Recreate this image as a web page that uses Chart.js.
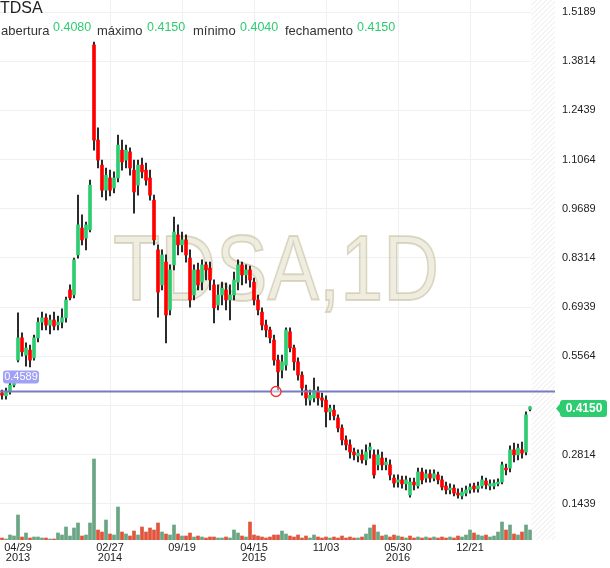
<!DOCTYPE html>
<html><head><meta charset="utf-8">
<script src="https://cdn.jsdelivr.net/npm/chart.js@4/dist/chart.umd.min.js"></script>
<style>
html,body{margin:0;padding:0;background:#fff;}
#wrap{position:relative;width:610px;height:568px;overflow:hidden;}
#c{position:absolute;left:0;top:0;}
#title{position:absolute;left:0px;top:0px;font:16px/16px "Liberation Sans",Arial,sans-serif;color:#222;}
.lg{position:absolute;top:24px;font:13px/13px "Liberation Sans",Arial,sans-serif;color:#333;white-space:nowrap;}
.val{position:absolute;top:21px;font:12.5px/13px "Liberation Sans",Arial,sans-serif;color:#2ecc71;white-space:nowrap;}
</style></head><body>
<div id="wrap"><canvas id="c" width="610" height="568"></canvas>
<div id="title">TDSA</div>
<span class="lg" style="left:1px">abertura</span><span class="val" style="left:53px">0.4080</span>
<span class="lg" style="left:97px">máximo</span><span class="val" style="left:147px">0.4150</span>
<span class="lg" style="left:193px">mínimo</span><span class="val" style="left:240px">0.4040</span>
<span class="lg" style="left:285px">fechamento</span><span class="val" style="left:357px">0.4150</span>
</div>
<script>
// ---- data ----
const candleOpen = [
.454,.446,.457,.476,.546,.608,.560,.574,.552,.608,
.652,.664,.644,.658,.644,.652,.664,.742,.728,.840,
.915,.887,.910,1.427,1.161,1.091,1.021,1.055,1.027,1.055,
1.133,1.105,1.128,1.077,1.035,1.091,1.077,1.055,.993,.854,
.756,.820,.686,.812,.896,.868,.882,.831,.728,.798,
.764,.812,.803,.756,.700,.728,.742,.714,.728,.764,
.812,.784,.798,.764,.714,.680,.644,.630,.602,.546,
.518,.532,.625,.580,.541,.504,.462,.434,.440,.457,
.440,.434,.401,.406,.384,.356,.323,.309,.289,.278,
.281,.267,.295,.281,.253,.272,.253,.253,.216,.205,
.211,.200,.169,.205,.194,.233,.216,.228,.216,.225,
.211,.194,.183,.188,.174,.166,.174,.183,.194,.186,
.194,.208,.194,.194,.200,.205,.244,.244,.295,.281,
.295,.289,.408];
const candleHigh = [
.462,.468,.482,.502,.678,.622,.594,.588,.616,.664,
.680,.675,.672,.680,.669,.689,.722,.756,.831,1.007,
.952,.932,1.049,1.435,1.195,1.105,1.083,1.077,1.072,1.175,
1.161,1.147,1.139,1.105,1.105,1.111,1.097,1.077,1.007,.868,
.854,.840,.812,.946,.924,.904,.896,.854,.812,.817,
.826,.820,.820,.770,.756,.764,.761,.756,.792,.826,
.820,.812,.809,.775,.728,.692,.658,.638,.616,.560,
.560,.636,.636,.588,.552,.513,.476,.462,.496,.471,
.454,.446,.420,.420,.393,.365,.334,.323,.300,.295,
.295,.309,.314,.295,.295,.289,.272,.267,.225,.225,
.222,.222,.216,.216,.244,.244,.239,.239,.239,.233,
.222,.205,.200,.197,.186,.188,.194,.200,.202,.205,
.222,.216,.211,.211,.214,.261,.255,.306,.314,.311,
.317,.401,.415];
const candleLow = [
.437,.437,.451,.471,.541,.557,.529,.527,.546,.597,
.630,.630,.619,.630,.630,.636,.652,.714,.720,.831,
.868,.854,.904,1.133,1.083,1.002,.993,1.005,1.013,1.044,
1.077,1.083,1.063,.957,1.007,1.055,1.035,.993,.868,.666,
.742,.594,.672,.798,.840,.848,.820,.694,.714,.742,
.742,.770,.742,.650,.686,.700,.686,.658,.714,.742,
.756,.761,.750,.700,.672,.630,.611,.594,.532,.462,
.496,.518,.569,.518,.490,.448,.420,.420,.429,.420,
.415,.359,.379,.379,.345,.309,.295,.272,.267,.261,
.258,.253,.272,.216,.239,.239,.239,.211,.191,.191,
.188,.183,.163,.183,.188,.200,.205,.205,.208,.200,
.183,.172,.172,.166,.160,.158,.166,.174,.177,.177,
.188,.186,.183,.186,.194,.200,.225,.233,.261,.267,
.272,.281,.404];
const candleClose = [
.448,.457,.476,.496,.608,.569,.580,.546,.608,.652,
.664,.644,.658,.641,.652,.664,.714,.720,.826,.924,
.882,.924,1.035,1.161,1.105,1.021,1.063,1.021,1.055,1.147,
1.100,1.133,1.083,1.016,1.091,1.072,1.049,1.007,.882,.736,
.840,.672,.798,.904,.868,.882,.840,.714,.798,.756,
.812,.798,.770,.692,.728,.747,.714,.728,.770,.812,
.784,.798,.770,.714,.686,.644,.630,.608,.546,.513,
.541,.630,.580,.541,.504,.468,.440,.448,.462,.440,
.434,.401,.412,.390,.356,.323,.309,.289,.281,.286,
.267,.289,.303,.225,.281,.253,.261,.225,.202,.211,
.200,.211,.205,.197,.233,.211,.228,.216,.228,.211,
.191,.183,.188,.174,.169,.177,.183,.191,.186,.194,
.211,.197,.200,.202,.205,.253,.239,.295,.281,.300,
.286,.393,.415];
const volume = [
2,1,5,4,25,3,7,2,3,3,
2,2,1,1,7,5,13,4,12,17,
4,5,17,81,10,8,20,6,5,33,
8,6,4,9,5,13,8,12,10,17,
8,6,5,15,6,4,4,7,3,4,
3,2,3,3,2,2,3,2,10,7,
4,3,18,5,4,3,2,3,5,5,
9,6,4,3,5,2,4,2,5,3,
2,3,2,3,2,4,2,3,2,2,
3,6,12,15,8,4,5,3,5,4,
3,2,4,2,3,2,3,2,3,2,
3,2,3,2,4,3,5,10,7,5,
4,5,3,4,8,18,10,15,6,5,
8,15,10];
const xTickIndex = [4, 27, 45, 63, 81, 99, 117];
const xTickText = [['04/29','2013'],['02/27','2014'],'09/19',['04/15','2015'],'11/03',['05/30','2016'],'12/21'];
const yTickValues = [0.1439,0.2814,0.4189,0.5564,0.6939,0.8314,0.9689,1.1064,1.2439,1.3814,1.5189];
const alertLevel = 0.4589;
const alertIndex = 68.5;
const lastPrice = 0.4150;
const symbolText = 'TDSA,1D';

// ---- styles ----
const FONT = '"Liberation Sans", Arial, sans-serif';
const UP = '#2ecc71', DOWN = '#ff0000';
const VUP = '#6aa584', VDOWN = '#e0553c';
const n = candleOpen.length;
const idx = candleOpen.map((_, i) => i);
const isUp = idx.map(i => candleClose[i] >= candleOpen[i]);
const volUp = idx.map(i => i === 0 ? isUp[0] : candleClose[i] >= candleClose[i - 1]);

const bgPlugin = {
  id: 'bg',
  beforeDatasetsDraw(chart) {
    const {ctx, chartArea: a, scales} = chart;
    const x0 = scales.x.getPixelForValue(n - 1) + 1.5;
    ctx.save();
    ctx.beginPath(); ctx.rect(x0, a.top, a.right - x0, a.bottom - a.top); ctx.clip();
    ctx.fillStyle = '#fff'; ctx.fillRect(x0, a.top, a.right - x0, a.bottom - a.top);
    ctx.strokeStyle = '#e9e9e9'; ctx.lineWidth = 1;
    ctx.beginPath();
    const H = a.bottom - a.top;
    for (let k = -H; k < (a.right - x0) + 10; k += 5) {
      ctx.moveTo(x0 + k, a.bottom); ctx.lineTo(x0 + k + H, a.top);
    }
    ctx.stroke();
    ctx.restore();
    ctx.save();
    ctx.font = '93px ' + FONT;
    const w = ctx.measureText(symbolText).width;
    ctx.translate(276, 300);
    ctx.scale(326 / w, 1);
    ctx.textAlign = 'center'; ctx.textBaseline = 'alphabetic';
    ctx.fillStyle = 'rgba(226,220,198,0.55)';
    ctx.fillText(symbolText, 0, 0);
    ctx.strokeStyle = 'rgba(200,192,162,0.6)'; ctx.lineWidth = 1.8;
    ctx.strokeText(symbolText, 0, 0);
    ctx.restore();
  }
};

const overlayPlugin = {
  id: 'overlay',
  afterDatasetsDraw(chart) {
    const {ctx, chartArea: a, scales} = chart;
    const yl = Math.round(scales.y.getPixelForValue(alertLevel)) + 0.5;
    ctx.save();
    ctx.strokeStyle = '#7a7abf'; ctx.lineWidth = 2;
    ctx.beginPath(); ctx.moveTo(a.left, yl); ctx.lineTo(a.right, yl); ctx.stroke();
    const xc = scales.x.getPixelForValue(alertIndex);
    ctx.beginPath(); ctx.arc(xc, yl, 5, 0, Math.PI * 2);
    ctx.fillStyle = 'rgba(255,255,255,0.5)'; ctx.fill();
    ctx.strokeStyle = '#f03030'; ctx.lineWidth = 1.3; ctx.stroke();
    ctx.fillStyle = '#a0a0f4';
    ctx.beginPath(); ctx.roundRect(3, yl - 21, 36, 13, 3); ctx.fill();
    ctx.fillStyle = '#fff'; ctx.font = '11px ' + FONT;
    ctx.textAlign = 'center'; ctx.textBaseline = 'middle';
    ctx.fillText(alertLevel.toFixed(4), 21, yl - 14.3);
    ctx.restore();
  },
  afterDraw(chart) {
    const {ctx, chartArea: a, scales} = chart;
    const yp = scales.y.getPixelForValue(lastPrice) + 1.5;
    ctx.save();
    ctx.fillStyle = '#2ecc71';
    ctx.beginPath();
    ctx.moveTo(a.right + 1, yp);
    ctx.lineTo(a.right + 6, yp - 6);
    ctx.lineTo(a.right + 6, yp + 6);
    ctx.closePath(); ctx.fill();
    ctx.beginPath(); ctx.roundRect(a.right + 5, yp - 8.5, 47, 17, 3); ctx.fill();
    ctx.fillStyle = '#fff'; ctx.font = 'bold 12px ' + FONT;
    ctx.textAlign = 'center'; ctx.textBaseline = 'middle';
    ctx.fillText(lastPrice.toFixed(4), a.right + 29, yp + 0.5);
    ctx.restore();
  }
};

new Chart(document.getElementById('c'), {
  type: 'bar',
  data: {
    datasets: [
      { label: 'corpo', data: idx.map(i => ({x: i, y: [candleOpen[i], candleClose[i]]})),
        backgroundColor: idx.map(i => isUp[i] ? UP : DOWN), barThickness: 3, minBarLength: 1,
        grouped: false, order: 1, yAxisID: 'y' },
      { label: 'pavio', data: idx.map(i => ({x: i, y: [candleLow[i], candleHigh[i]]})),
        backgroundColor: '#000', barThickness: 1, grouped: false, order: 2, yAxisID: 'y' },
      { label: 'volume', data: idx.map(i => ({x: i, y: volume[i]})),
        backgroundColor: idx.map(i => volUp[i] ? VUP : VDOWN), barThickness: 3,
        grouped: false, order: 3, yAxisID: 'yv' }
    ]
  },
  options: {
    responsive: false, animation: false, events: [],
    layout: { padding: 0 },
    plugins: { legend: { display: false }, tooltip: { enabled: false } },
    scales: {
      x: {
        type: 'linear', min: -0.5, max: 138.25, offset: false,
        afterBuildTicks: s => { s.ticks = xTickIndex.map(v => ({value: v})); },
        afterFit: s => { s.height = 28; s.paddingLeft = 0; s.paddingRight = 0; },
        ticks: { autoSkip: false, maxRotation: 0, padding: 3, color: '#222',
          font: { family: FONT, size: 11, lineHeight: 0.9 },
          callback: (v, i) => xTickText[i] },
        grid: { offset: false, drawTicks: false, color: c => c.index === 0 ? 'rgba(0,0,0,0)' : '#f0f0f0' },
        border: { display: false }
      },
      y: {
        position: 'right', min: 0.043, max: 1.5526,
        afterBuildTicks: s => { s.ticks = yTickValues.map(v => ({value: v})); },
        afterFit: s => { s.width = 55; s.paddingTop = 0; s.paddingBottom = 0; },
        ticks: { padding: 7, color: '#222', font: { family: FONT, size: 11 },
          callback: v => Number(v).toFixed(4) },
        grid: { drawTicks: false, color: '#f0f0f0' },
        border: { display: false }
      },
      yv: { display: false, min: 0, max: 540 }
    }
  },
  plugins: [bgPlugin, overlayPlugin]
});
</script>
</body></html>
